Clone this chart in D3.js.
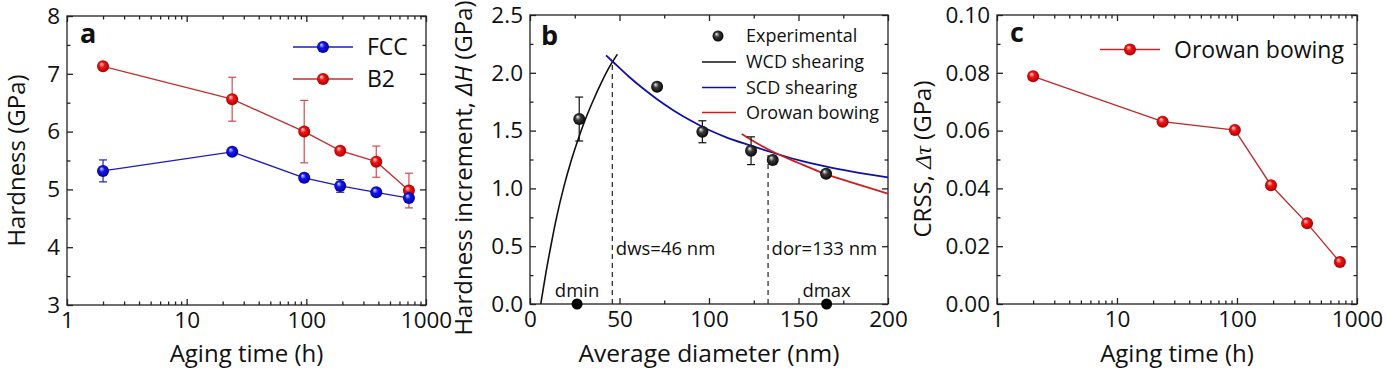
<!DOCTYPE html>
<html>
<head>
<meta charset="utf-8">
<script src="https://cdn.jsdelivr.net/npm/d3@7"></script>
<style>
  body { margin: 0; background: #fff; }
  text { font-family: "Open Sans", sans-serif; fill: #111; }
  .axis text { font-size: 22.5px; font-family: "Open Sans", sans-serif; fill: #111; }
  .axis line { stroke: #222; stroke-width: 1.3; }
</style>
</head>
<body>
<svg id="chart" width="1386" height="376"></svg>
<script>
// ---- data (a) hardness vs aging time
const agingTime = [2, 24, 96, 192, 384, 720];
const fccHardness = [5.32, 5.65, 5.20, 5.06, 4.95, 4.85];
const fccErr = [0.19, 0.03, 0.07, 0.11, 0.03, 0.06];
const b2Hardness = [7.13, 6.56, 6.00, 5.67, 5.48, 4.98];
const b2Err = [0.03, 0.38, 0.54, 0.03, 0.27, 0.30];

// ---- data (b) hardness increment vs diameter
const expDiameter = [27.5, 71, 96.3, 123.5, 135.6, 165.4];
const expIncrement = [1.60, 1.88, 1.49, 1.326, 1.246, 1.127];
const expErr = [0.19, 0.03, 0.095, 0.12, 0.03, 0.02];
const limitDiameter = [26.3, 165.7];
const limitLabels = ["dmin", "dmax"];
const wcdDiameter = [6, 9, 12, 15, 19, 23, 27, 31, 35, 40, 44.7, 48.8];
const wcdIncrement = [0, 0.28, 0.53, 0.76, 1.02, 1.24, 1.43, 1.60, 1.75, 1.92, 2.06, 2.16];
const scdDiameter = [42.5, 46, 55, 63, 71, 80, 90, 100, 110, 123, 134, 150, 165, 180, 200];
const scdIncrement = [2.15, 2.10, 1.97, 1.866, 1.772, 1.677, 1.585, 1.505, 1.44, 1.372, 1.317, 1.245, 1.19, 1.145, 1.095];
const orowanDiameter = [118.3, 123, 134, 150, 164, 180, 200];
const orowanIncrement = [1.47, 1.425, 1.33, 1.22, 1.13, 1.05, 0.955];
const criticalDiameter = [46, 133];
const criticalTop = [2.09, 1.32];
const criticalLabels = ["dws=46 nm", "dor=133 nm"];

// ---- data (c) CRSS vs aging time
const crss = [0.0788, 0.0631, 0.0602, 0.0411, 0.0279, 0.0145];

// ---- ticks
const logTicks = [1, 10, 100, 1000];
const hardTicks = [3, 4, 5, 6, 7, 8];
const hardMinor = [3.5, 4.5, 5.5, 6.5, 7.5];
const diamTicks = [0, 50, 100, 150, 200];
const diamMinor = [25, 75, 125, 175];
const incTicks = [0, 0.5, 1.0, 1.5, 2.0, 2.5];
const incMinor = [0.25, 0.75, 1.25, 1.75, 2.25];
const crssTicks = [0, 0.02, 0.04, 0.06, 0.08, 0.10];
const crssMinor = [0.01, 0.03, 0.05, 0.07, 0.09];

const svg = d3.select("#chart");
const defs = svg.append("defs");

function ball(id, light, base, dark) {
  const gr = defs.append("radialGradient").attr("id", id)
    .attr("cx", "50%").attr("cy", "50%").attr("r", "55%")
    .attr("fx", "35%").attr("fy", "30%");
  gr.append("stop").attr("offset", "0%").attr("stop-color", light);
  gr.append("stop").attr("offset", "40%").attr("stop-color", base);
  gr.append("stop").attr("offset", "100%").attr("stop-color", dark);
}
ball("ballRed", "#ffe0e0", "#f21414", "#a00000");
ball("ballBlue", "#d8d8ff", "#1414f2", "#00008c");
ball("ballBlack", "#f4f4f4", "#3a3a3a", "#000");

function logMinor(x) {
  return x.ticks().filter(v => logTicks.indexOf(v) < 0);
}

function drawAxes(g, x, y, w, h, xMajor, xMinor, yMajor, yMinor, xFmt, yFmt) {
  const sides = [
    { a: d3.axisBottom, s: x, t: `translate(0,${h})`, major: xMajor, minor: xMinor, f: xFmt },
    { a: d3.axisTop, s: x, t: "translate(0,0)", major: xMajor, minor: xMinor, f: null },
    { a: d3.axisLeft, s: y, t: "translate(0,0)", major: yMajor, minor: yMinor, f: yFmt },
    { a: d3.axisRight, s: y, t: `translate(${w},0)`, major: yMajor, minor: yMinor, f: null }
  ];
  sides.forEach(d => {
    const gm = g.append("g").attr("class", "axis").attr("transform", d.t)
      .call(d.a(d.s).tickValues(d.minor).tickSize(-3.5).tickFormat(""));
    gm.select(".domain").remove();
    const gM = g.append("g").attr("class", "axis").attr("transform", d.t)
      .call(d.a(d.s).tickValues(d.major).tickSize(-6).tickPadding(7)
        .tickFormat(d.f ? d.f : () => ""));
    gM.select(".domain").remove();
  });
  g.append("rect").attr("width", w).attr("height", h)
    .attr("fill", "none").attr("stroke", "#222").attr("stroke-width", 1.3);
}

function errorBars(g, xs, ys, es, x, y, color) {
  xs.forEach((xv, i) => {
    const cx = x(xv), y0 = y(ys[i] - es[i]), y1 = y(ys[i] + es[i]);
    const eb = g.append("g").attr("stroke", color).attr("stroke-width", 1.2);
    eb.append("line").attr("x1", cx).attr("x2", cx).attr("y1", y0).attr("y2", y1);
    eb.append("line").attr("x1", cx - 4).attr("x2", cx + 4).attr("y1", y0).attr("y2", y0);
    eb.append("line").attr("x1", cx - 4).attr("x2", cx + 4).attr("y1", y1).attr("y2", y1);
  });
}

function balls(g, xs, ys, x, y, fill) {
  g.selectAll(null).data(xs).join("circle")
    .attr("cx", d => x(d))
    .attr("cy", (d, i) => y(ys[i]))
    .attr("r", 6)
    .attr("fill", fill);
}

function series(g, xs, ys, x, y, color, width) {
  g.append("path")
    .datum(xs.map((v, i) => [v, ys[i]]))
    .attr("fill", "none").attr("stroke", color).attr("stroke-width", width)
    .attr("d", d3.line().x(d => x(d[0])).y(d => y(d[1])).curve(d3.curveMonotoneX));
}

function straight(g, xs, ys, x, y, color) {
  g.append("path")
    .datum(xs.map((v, i) => [v, ys[i]]))
    .attr("fill", "none").attr("stroke", color).attr("stroke-width", 1.3)
    .attr("d", d3.line().x(d => x(d[0])).y(d => y(d[1])));
}

// ================= panel a =================
{
  const L = 67, T = 16, w = 426 - 67, h = 305 - 16;
  const g = svg.append("g").attr("transform", `translate(${L},${T})`);
  const x = d3.scaleLog().domain([1, 1000]).range([0, w]);
  const y = d3.scaleLinear().domain([3, 8]).range([h, 0]);

  drawAxes(g, x, y, w, h, logTicks, logMinor(x), hardTicks, hardMinor, d3.format("d"), d3.format("d"));

  straight(g, agingTime, b2Hardness, x, y, "#c03030");
  straight(g, agingTime, fccHardness, x, y, "#1c1cc0");
  errorBars(g, agingTime, b2Hardness, b2Err, x, y, "#c85050");
  errorBars(g, agingTime, fccHardness, fccErr, x, y, "#2020c0");
  balls(g, agingTime, b2Hardness, x, y, "url(#ballRed)");
  balls(g, agingTime, fccHardness, x, y, "url(#ballBlue)");

  g.append("text").attr("x", 80 - L).attr("y", 43 - T)
    .style("font-size", "27px").style("font-weight", "bold").text("a");

  // legend
  const leg = [["FCC", "#1c1cc0", "url(#ballBlue)", 47], ["B2", "#c03030", "url(#ballRed)", 79]];
  leg.forEach(d => {
    g.append("line").attr("x1", 293 - L).attr("x2", 353 - L).attr("y1", d[3] - T).attr("y2", d[3] - T)
      .attr("stroke", d[1]).attr("stroke-width", 1.3);
    g.append("circle").attr("cx", 323 - L).attr("cy", d[3] - T).attr("r", 6).attr("fill", d[2]);
    g.append("text").attr("x", 367 - L).attr("y", d[3] - T).attr("dy", "0.36em")
      .style("font-size", "23px").text(d[0]);
  });

  g.append("text").attr("x", w / 2).attr("y", 362 - T).attr("text-anchor", "middle")
    .style("font-size", "24px").text("Aging time (h)");
  g.append("text").attr("transform", `translate(${25 - L},${h / 2}) rotate(-90)`)
    .attr("text-anchor", "middle").style("font-size", "24px").text("Hardness (GPa)");
}

// ================= panel b =================
{
  const L = 530, T = 15, w = 888 - 530, h = 304 - 15;
  const g = svg.append("g").attr("transform", `translate(${L},${T})`);
  const x = d3.scaleLinear().domain([0, 200]).range([0, w]);
  const y = d3.scaleLinear().domain([0, 2.5]).range([h, 0]);

  drawAxes(g, x, y, w, h, diamTicks, diamMinor, incTicks, incMinor, d3.format("d"), d3.format(".1f"));

  const clip = defs.append("clipPath").attr("id", "clipB");
  clip.append("rect").attr("width", w).attr("height", h);
  const pg = g.append("g").attr("clip-path", "url(#clipB)");

  criticalDiameter.forEach((d, i) => {
    pg.append("line").attr("x1", x(d)).attr("x2", x(d)).attr("y1", y(0)).attr("y2", y(criticalTop[i]))
      .attr("stroke", "#333").attr("stroke-width", 1.3).attr("stroke-dasharray", "5,4");
  });

  series(pg, wcdDiameter, wcdIncrement, x, y, "#111", 1.6);
  series(pg, scdDiameter, scdIncrement, x, y, "#1010a8", 1.8);
  series(pg, orowanDiameter, orowanIncrement, x, y, "#d01c1c", 1.8);

  errorBars(g, expDiameter, expIncrement, expErr, x, y, "#111");
  balls(g, expDiameter, expIncrement, x, y, "url(#ballBlack)");
  g.selectAll(null).data(limitDiameter).join("circle")
    .attr("cx", d => x(d)).attr("cy", y(0)).attr("r", 5.5).attr("fill", "#000");
  g.selectAll(null).data(limitDiameter).join("text")
    .attr("x", d => x(d)).attr("y", 297 - T).attr("text-anchor", "middle")
    .style("font-size", "18.5px").text((d, i) => limitLabels[i]);

  criticalDiameter.forEach((d, i) => {
    g.append("text").attr("x", x(d) + 3.5).attr("y", 255 - T)
      .style("font-size", "18.5px").text(criticalLabels[i]);
  });

  g.append("text").attr("x", 541 - L).attr("y", 45 - T)
    .style("font-size", "27px").style("font-weight", "bold").text("b");

  // legend
  g.append("circle").attr("cx", 718 - L).attr("cy", 36 - T).attr("r", 5.5).attr("fill", "url(#ballBlack)");
  g.append("text").attr("x", 746 - L).attr("y", 36 - T).attr("dy", "0.36em")
    .style("font-size", "18px").text("Experimental");
  const leg = [["WCD shearing", "#111", 62], ["SCD shearing", "#1010a8", 87.5], ["Orowan bowing", "#d01c1c", 112.5]];
  leg.forEach(d => {
    g.append("line").attr("x1", 702 - L).attr("x2", 736 - L).attr("y1", d[2] - T).attr("y2", d[2] - T)
      .attr("stroke", d[1]).attr("stroke-width", 1.6);
    g.append("text").attr("x", 746 - L).attr("y", d[2] - T).attr("dy", "0.36em")
      .style("font-size", "18px").text(d[0]);
  });

  g.append("text").attr("x", w / 2).attr("y", 362 - T).attr("text-anchor", "middle")
    .style("font-size", "24.5px").text("Average diameter (nm)");
  const yt = g.append("text").attr("transform", `translate(${472 - L},${168 - T}) rotate(-90)`)
    .attr("text-anchor", "middle").style("font-size", "24px");
  yt.append("tspan").text("Hardness increment, ");
  yt.append("tspan").style("font-style", "italic").text("ΔH");
  yt.append("tspan").text(" (GPa)");
}

// ================= panel c =================
{
  const L = 997, T = 15, w = 1357 - 997, h = 304 - 15;
  const g = svg.append("g").attr("transform", `translate(${L},${T})`);
  const x = d3.scaleLog().domain([1, 1000]).range([0, w]);
  const y = d3.scaleLinear().domain([0, 0.10]).range([h, 0]);

  drawAxes(g, x, y, w, h, logTicks, logMinor(x), crssTicks, crssMinor, d3.format("d"), d3.format(".2f"));

  straight(g, agingTime, crss, x, y, "#c02828");
  balls(g, agingTime, crss, x, y, "url(#ballRed)");

  g.append("text").attr("x", 1010 - L).attr("y", 42 - T)
    .style("font-size", "27px").style("font-weight", "bold").text("c");

  g.append("line").attr("x1", 1100 - L).attr("x2", 1160 - L).attr("y1", 49.5 - T).attr("y2", 49.5 - T)
    .attr("stroke", "#c02828").attr("stroke-width", 1.3);
  g.append("circle").attr("cx", 1130 - L).attr("cy", 49.5 - T).attr("r", 6).attr("fill", "url(#ballRed)");
  g.append("text").attr("x", 1174 - L).attr("y", 49.5 - T).attr("dy", "0.36em")
    .style("font-size", "23px").text("Orowan bowing");

  g.append("text").attr("x", w / 2).attr("y", 362 - T).attr("text-anchor", "middle")
    .style("font-size", "24px").text("Aging time (h)");
  const yt = g.append("text").attr("transform", `translate(${931 - L},${159 - T}) rotate(-90)`)
    .attr("text-anchor", "middle").style("font-size", "24px");
  yt.append("tspan").text("CRSS, ");
  yt.append("tspan").style("font-style", "italic").style("font-family", "'Liberation Serif', serif").text("Δτ");
  yt.append("tspan").text(" (GPa)");
}
</script>
</body>
</html>
